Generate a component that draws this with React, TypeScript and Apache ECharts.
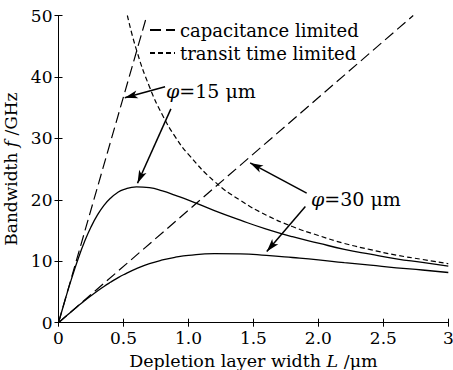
import React, { useEffect, useRef } from "react";
import * as echarts from "echarts";

// Depletion layer width L (µm) sample points for the bandwidth curves
const totalL = [0, 0.05, 0.1, 0.15, 0.2, 0.25, 0.3, 0.35, 0.4, 0.45, 0.5, 0.6, 0.7, 0.8, 0.9, 1.0, 1.2, 1.4, 1.6, 1.8, 2.0, 2.2, 2.4, 2.6, 2.8, 3.0];
const phi15Total = [0, 3.65, 7.14, 10.34, 13.17, 15.57, 17.54, 19.1, 20.27, 21.12, 21.67, 22.12, 21.99, 21.46, 20.73, 19.96, 18.24, 16.68, 15.23, 13.99, 12.95, 11.95, 11.15, 10.4, 9.81, 9.2];
const phi30Total = [0, 0.91, 1.82, 2.7, 3.56, 4.38, 5.16, 5.9, 6.58, 7.22, 7.8, 8.8, 9.61, 10.21, 10.66, 10.97, 11.23, 11.2, 10.95, 10.61, 10.23, 9.77, 9.36, 8.93, 8.58, 8.17];

// transit time limited
const transitL = [0.53, 0.6, 0.7, 0.8, 0.9, 1.0, 1.2, 1.4, 1.6, 1.8, 2.0, 2.2, 2.4, 2.6, 2.8, 3.0];
const transitF = [50, 44.4, 38.4, 33.8, 30.2, 27.4, 23.0, 19.9, 17.5, 15.65, 14.2, 12.9, 11.9, 11.0, 10.3, 9.6];

// capacitance limited
const cap15L = [0, 0.68];
const cap15F = [0, 50];
const cap30L = [0, 2.73];
const cap30F = [0, 50];

const xTickLabels = ["0", "0.5", "1.0", "1.5", "2.0", "2.5", "3"];
const yTickLabels = ["0", "10", "20", "30", "40", "50"];

// annotation arrows: [fromL, fromF, toL, toF]
const arrows = [
  [0.82, 38.4, 0.51, 36.6],
  [0.865, 34.8, 0.608, 22.7],
  [1.91, 21.1, 1.475, 26.0],
  [1.9, 18.9, 1.603, 11.6],
];

const FONT = "DejaVu Serif";

const zip = (xs: number[], ys: number[]) => xs.map((x, i) => [x, ys[i]]);

export default function App() {
  const ref = useRef<HTMLDivElement>(null);
  useEffect(() => {
    if (!ref.current) return;
    const chart = echarts.init(ref.current, undefined, { renderer: "svg" });
    const axisCommon = {
      axisLine: { show: true, lineStyle: { color: "#000", width: 1 } },
      axisTick: { show: true, inside: true, length: 4, lineStyle: { color: "#000" } },
      splitLine: { show: false },
    };
    const lineBase = {
      type: "line",
      showSymbol: false,
      symbol: "none",
      clip: true,
      silent: true,
    };
    chart.setOption({
      animation: false,
      backgroundColor: "#fff",
      grid: {
        left: 58.5,
        right: 4.7,
        top: 15.5,
        bottom: 47.3,
        containLabel: false,
        outerBoundsMode: "none",
      },
      legend: {
        data: ["capacitance limited", "transit time limited"],
        orient: "vertical",
        left: 149,
        top: 21,
        padding: 0,
        itemWidth: 25,
        itemHeight: 1,
        itemGap: 5,
        textStyle: { fontFamily: FONT, fontSize: 18, color: "#000" },
        selectedMode: false,
      },
      xAxis: [
        {
          type: "value",
          min: 0,
          max: 3,
          interval: 0.5,
          ...axisCommon,
          axisLabel: {
            fontFamily: FONT,
            fontSize: 17,
            color: "#000",
            margin: 7,
            formatter: (_v: number, i: number) => xTickLabels[i],
          },
          name: "Depletion layer width {i|L} /μm",
          nameLocation: "middle",
          nameGap: 27,
          nameTextStyle: {
            fontFamily: FONT,
            fontSize: 17.5,
            color: "#000",
            rich: { i: { fontFamily: FONT, fontSize: 17.5, fontStyle: "italic", color: "#000" } },
          },
        },
        {
          type: "value",
          position: "top",
          min: 0,
          max: 3,
          interval: 0.5,
          ...axisCommon,
          axisLabel: { show: false },
        },
      ],
      yAxis: [
        {
          type: "value",
          min: 0,
          max: 50,
          interval: 10,
          ...axisCommon,
          axisLabel: {
            fontFamily: FONT,
            fontSize: 17,
            color: "#000",
            margin: 6,
            formatter: (_v: number, i: number) => yTickLabels[i],
          },
          name: "Bandwidth {i|f} /GHz",
          nameLocation: "middle",
          nameGap: 36,
          nameTextStyle: {
            fontFamily: FONT,
            fontSize: 17,
            color: "#000",
            rich: { i: { fontFamily: FONT, fontSize: 17, fontStyle: "italic", color: "#000" } },
          },
        },
        {
          type: "value",
          position: "right",
          min: 0,
          max: 50,
          interval: 10,
          ...axisCommon,
          axisLabel: { show: false },
        },
      ],
      series: [
        {
          ...lineBase,
          name: "capacitance limited",
          data: zip(cap15L, cap15F),
          lineStyle: { color: "#000", width: 1.2, type: [11, 5] },
          itemStyle: { color: "#000" },
        },
        {
          ...lineBase,
          name: "transit time limited",
          data: zip(transitL, transitF),
          smooth: true,
          lineStyle: { color: "#000", width: 1.2, type: [5, 3] },
          itemStyle: { color: "#000" },
        },
        {
          ...lineBase,
          name: "capacitance limited",
          data: zip(cap30L, cap30F),
          lineStyle: { color: "#000", width: 1.2, type: [11, 5] },
          itemStyle: { color: "#000" },
        },
        {
          ...lineBase,
          name: "phi15",
          data: zip(totalL, phi15Total),
          smooth: true,
          lineStyle: { color: "#000", width: 1.3 },
          markLine: {
            silent: true,
            symbol: ["none", "arrow"],
            symbolSize: [6, 13],
            label: { show: false },
            lineStyle: { color: "#000", width: 1.5, type: "solid" },
            data: arrows.map((a) => [{ coord: [a[0], a[1]] }, { coord: [a[2], a[3]] }]),
          },
        },
        {
          ...lineBase,
          name: "phi30",
          data: zip(totalL, phi30Total),
          smooth: true,
          lineStyle: { color: "#000", width: 1.3 },
        },
      ],
      graphic: [
        {
          type: "text",
          left: 166,
          top: 81,
          style: {
            text: "{i|φ}=15 μm",
            font: `19px '${FONT}'`,
            fill: "#000",
            rich: { i: { fontStyle: "italic", fontFamily: FONT, fontSize: 19 } },
          },
        },
        {
          type: "text",
          left: 311,
          top: 189,
          style: {
            text: "{i|φ}=30 μm",
            font: `19px '${FONT}'`,
            fill: "#000",
            rich: { i: { fontStyle: "italic", fontFamily: FONT, fontSize: 19 } },
          },
        },
      ],
    });
    return () => chart.dispose();
  }, []);
  return (
    <div
      ref={ref}
      style={{ position: "fixed", left: 0, top: 0, width: 453, height: 370, background: "#fff" }}
    />
  );
}
